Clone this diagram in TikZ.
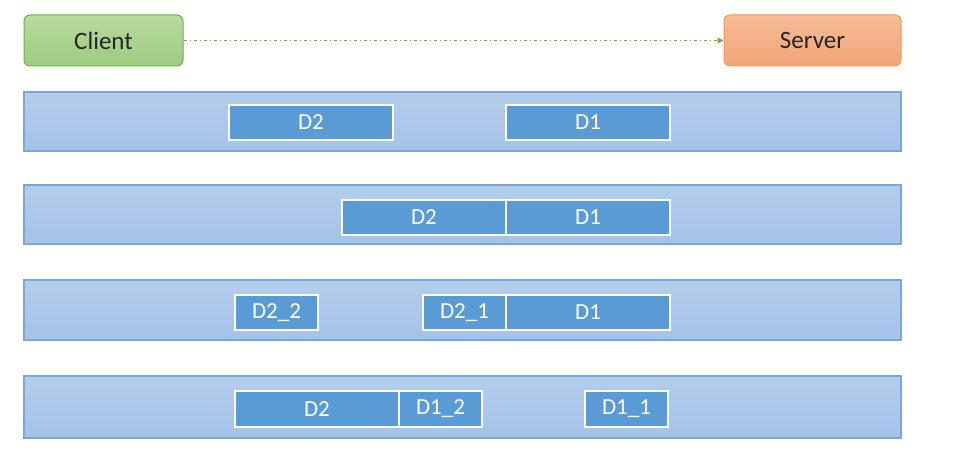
\documentclass[tikz,border=0pt]{standalone}
\usepackage{fontspec}
\setmainfont{Carlito}
\usetikzlibrary{arrows.meta}
\definecolor{bandfill}{HTML}{A4C2E8}
\definecolor{bandtop}{HTML}{B4CDEC}
\definecolor{bandline}{HTML}{7AA6DB}
\definecolor{boxfill}{HTML}{5B9BD5}
\definecolor{cltop}{HTML}{B7DA9F}
\definecolor{clbot}{HTML}{9DCB80}
\definecolor{clline}{HTML}{70AD47}
\definecolor{svtop}{HTML}{F6BC96}
\definecolor{svbot}{HTML}{F3A47A}
\definecolor{svline}{HTML}{ED7D31}
\tikzset{
  x=1pt, y=-1pt,
  endpoint/.style={rounded corners=6pt, line width=1pt, inner sep=0pt, font=\fontsize{25}{28}\selectfont, text=black!85},
  band/.style={draw=bandline, line width=1.4pt, top color=bandtop, bottom color=bandfill, minimum width=877pt, inner sep=0pt},
  seg/.style={draw=white, line width=1.5pt, fill=boxfill, text=white, inner sep=0pt, font=\fontsize{23}{26}\selectfont},
}
\begin{document}
\begin{tikzpicture}
\useasboundingbox (0,0) rectangle (979,462);
\fill[white] (0,0) rectangle (979,462);
\node[endpoint, draw=clline, top color=cltop, bottom color=clbot, minimum width=159pt, minimum height=51pt] (client) at (103.5,40.5) {Client};
\node[endpoint, draw=svline!80, top color=svtop, bottom color=svbot, minimum width=177pt, minimum height=51pt] (server) at (812.5,40.5) {Server};
\draw[clline, line width=1pt, dash pattern=on 3pt off 3pt on 1pt off 3pt, -{Triangle[length=6pt,width=6pt]}] (client) -- (server);

\node[band, minimum height=59pt] (b1) at (462.5,121.5) {};
\node[band, minimum height=59pt] (b2) at (462.5,214.5) {};
\node[band, minimum height=60pt] (b3) at (462.5,310) {};
\node[band, minimum height=62pt] (b4) at (462.5,407) {};

\node[seg, minimum width=164pt, minimum height=35pt] (r1d2) at (311,122.5) {D2};
\node[seg, minimum width=164pt, minimum height=35pt] (r1d1) at (588,122.5) {D1};

\node[seg, minimum width=164pt, minimum height=35pt] (r2d2) at (424,217.5) {D2};
\node[seg, minimum width=164pt, minimum height=35pt] (r2d1) at (588,217.5) {D1};

\node[seg, minimum width=83pt, minimum height=35pt] (r3d22) at (276.5,312.5) {D2\_2};
\node[seg, minimum width=83pt, minimum height=35pt] (r3d21) at (464.5,312.5) {D2\_1};
\node[seg, minimum width=164pt, minimum height=35pt] (r3d1) at (588,312.5) {D1};

\node[seg, minimum width=164pt, minimum height=36pt] (r4d2) at (317,409) {D2};
\node[seg, minimum width=83pt, minimum height=36pt] (r4d12) at (440.5,409) {D1\_2};
\node[seg, minimum width=83pt, minimum height=36pt] (r4d11) at (626.5,409) {D1\_1};
\end{tikzpicture}
\end{document}
